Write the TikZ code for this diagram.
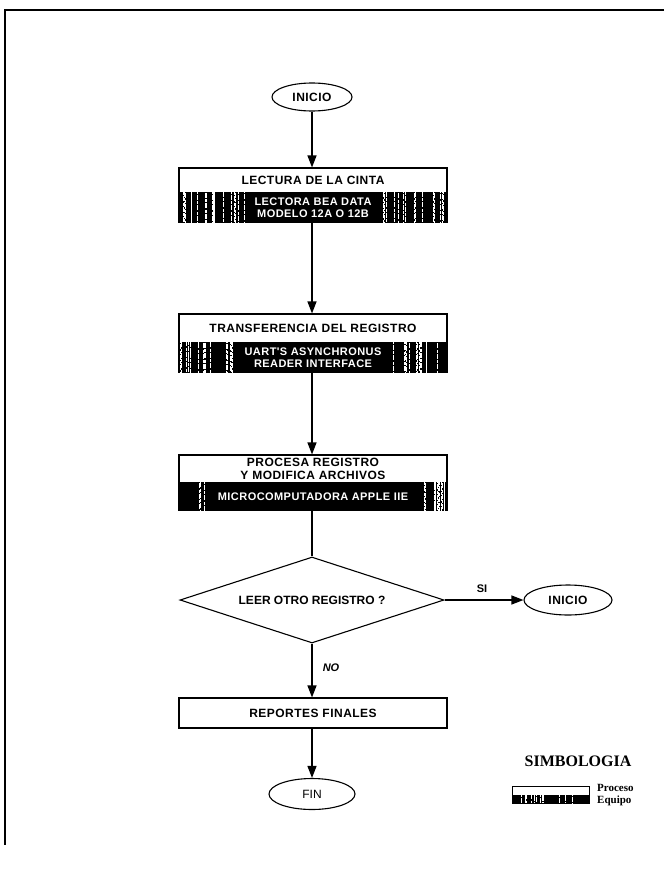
\documentclass[tikz,border=0pt]{standalone}
\usepackage{fontspec}
\setmainfont{Liberation Serif}
\newfontfamily\hv{Liberation Sans}[LetterSpace=4]
\newfontfamily\hvn{Liberation Sans}
\usetikzlibrary{shapes.geometric,arrows.meta,calc}
% random white streaks inside a black equipment bar: #1 node, #2 inner half width, #3 outer half width, #4 count
\newcommand\eqstreaks[4]{%
  \begin{scope}
    \clip (#1.south west) rectangle (#1.north east);
    \foreach \k in {1,...,#4}{
      \pgfmathsetmacro\sg{ifthenelse(rand<0,-1,1)}
      \pgfmathsetmacro\xo{\sg*(#2+rnd*(#3-#2))}
      \pgfmathsetmacro\ph{rnd*5}
      \pgfmathsetmacro\lw{0.4+rnd*0.7}
      \draw[white,line width=\lw pt,dash pattern=on 3pt off 1pt on 5pt off 1.5pt,dash phase=\ph pt]
        ($(#1.north)+(\xo,0)$) -- ($(#1.south)+(\xo,0)$);
    }
  \end{scope}}
\begin{document}
\begin{tikzpicture}[x=1pt,y=-1pt,
  every node/.style={font=\hv\bfseries\fontsize{12}{13}\selectfont},
  term/.style={ellipse,draw,line width=1.1pt,inner sep=0pt,minimum width=80pt,minimum height=28pt},
  procbox/.style={rectangle,draw,line width=1.1pt,minimum width=268pt,inner sep=0pt,align=center},
  equipbox/.style={rectangle,draw,fill=black,text=white,line width=1.1pt,minimum width=268pt,inner sep=0pt,align=center,font=\hv\bfseries\fontsize{11}{12}\selectfont},
  conn/.style={line width=1.2pt,-{Triangle[length=12pt,width=9pt]}},
  lbl/.style={font=\hvn\bfseries\fontsize{11}{12}\selectfont}
]
\pgfmathsetseed{4711}
\useasboundingbox (0,0) rectangle (664,894);
% frame
\draw[line width=1.5pt] (664,10) -- (5,10) -- (5,845);

\node[term] (ini1) at (312,97) {INICIO};

\node[procbox,minimum height=25pt] (p1) at (313,180.5) {LECTURA DE LA CINTA};
\node[equipbox,minimum height=29pt] (e1) at (313,207.5) {LECTORA BEA DATA\\MODELO 12A O 12B};
\eqstreaks{e1}{66}{134}{34}

\node[procbox,minimum height=29pt] (p2) at (313,328.5) {TRANSFERENCIA DEL REGISTRO};
\node[equipbox,minimum height=29pt] (e2) at (313,357.5) {UART'S ASYNCHRONUS\\READER INTERFACE};
\eqstreaks{e2}{78}{134}{30}

\node[procbox,minimum height=28pt,font=\hv\bfseries\fontsize{12}{12.5}\selectfont] (p3) at (313,469) {PROCESA REGISTRO\\Y MODIFICA ARCHIVOS};
\node[equipbox,minimum height=27pt] (e3) at (313,496.5) {MICROCOMPUTADORA APPLE IIE};
\eqstreaks{e3}{108}{134}{16}

\node[diamond,draw,line width=1.1pt,minimum width=264pt,minimum height=86pt,inner sep=0pt,
  label={[font=\hvn\bfseries\fontsize{12}{13}\selectfont]center:LEER OTRO REGISTRO ?}] (dec) at (312,600) {};

\node[term,minimum width=88pt,minimum height=30pt] (ini2) at (568,600) {INICIO};
\node[lbl] (si) at (482,589) {SI};
\node[lbl,font=\hvn\bfseries\itshape\fontsize{11}{12}\selectfont] (no) at (331,668) {NO};

\node[procbox,minimum height=30pt] (p4) at (313,713) {REPORTES FINALES};
\node[term,minimum width=86pt,minimum height=31pt,font=\hvn\fontsize{12}{13}\selectfont] (fin) at (312,794) {FIN};

\draw[conn] (ini1.south) -- (ini1.south |- p1.north);
\draw[conn] (e1.south -| ini1) -- (ini1 |- p2.north);
\draw[conn] (e2.south -| ini1) -- (ini1 |- p3.north);
\draw[line width=1.2pt] (e3.south -| dec) -- (dec.north);
\draw[conn] (dec.east) -- (ini2.west);
\draw[conn] (dec.south) -- (dec |- p4.north);
\draw[conn] (p4.south -| fin) -- (fin.north);

% legend
\node[font=\rmfamily\bfseries\fontsize{16}{17}\selectfont] (simb) at (578,761) {SIMBOLOGIA};
\node[draw,line width=0.8pt,minimum width=77pt,minimum height=9pt,inner sep=0pt] (lp) at (550.5,790.5) {};
\node[draw,fill=black,line width=0.8pt,minimum width=77pt,minimum height=8pt,inner sep=0pt] (le) at (550.5,799) {};
\eqstreaks{le}{0}{36}{12}
\node[anchor=west,font=\rmfamily\bfseries\fontsize{11}{12}\selectfont,inner sep=0pt] (tp) at (597,788) {Proceso};
\node[anchor=west,font=\rmfamily\bfseries\fontsize{11}{12}\selectfont,inner sep=0pt] (te) at (597,801) {Equipo};
\end{tikzpicture}
\end{document}
